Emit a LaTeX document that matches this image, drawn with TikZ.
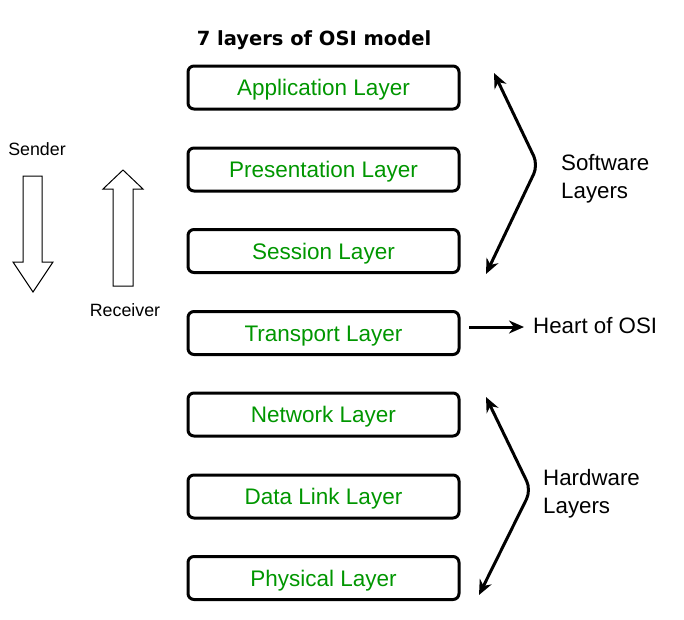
\documentclass[tikz,border=0pt]{standalone}
\usepackage{fontspec}
\setmainfont{Liberation Sans}
\newfontfamily\titlefont{DejaVu Sans}
\usetikzlibrary{arrows.meta}
\definecolor{layergreen}{RGB}{0,150,0}
\tikzset{
  layerbox/.style={draw=black, line width=3pt, rounded corners=6pt, minimum width=271pt, minimum height=43pt, inner sep=0pt, text height=16pt, text depth=0pt, text=layergreen, font=\fontsize{22.5}{24}\selectfont},
  sidelabel/.style={font=\fontsize{22.3}{28}\selectfont, align=left, anchor=west, inner sep=0pt},
  smalllabel/.style={font=\fontsize{17.8}{20}\selectfont, inner sep=0pt},
  bigarrow/.style={draw=black, line width=1pt, fill=white},
  bracearrow/.style={line width=3pt, rounded corners=10pt, {Stealth[length=15pt,width=13pt]}-{Stealth[length=15pt,width=13pt]}},
  heartarrow/.style={line width=3pt, -{Stealth[length=15pt,width=13pt]}}
}
\begin{document}
\begin{tikzpicture}[x=1pt,y=-1pt]
\useasboundingbox (0,0) rectangle (684,619);
\node[font=\titlefont\bfseries\fontsize{19.5}{22}\selectfont, inner sep=0pt] (title) at (314,40) {7 layers of OSI model};
\node[layerbox] (app) at (323.5,87.5) {Application Layer};
\node[layerbox] (pres) at (323.5,169.5) {Presentation Layer};
\node[layerbox] (sess) at (323.5,251) {Session Layer};
\node[layerbox] (trans) at (323.5,333) {Transport Layer};
\node[layerbox] (net) at (323.5,414.5) {Network Layer};
\node[layerbox] (dl) at (323.5,496.5) {Data Link Layer};
\node[layerbox] (phys) at (323.5,578) {Physical Layer};
% software
\coordinate (swtop) at (494,73);
\coordinate (swapex) at (538,165);
\coordinate (swbot) at (486,274);
\draw[bracearrow] (swtop) -- (swapex) -- (swbot);
\node[sidelabel] (sw) at (561,179) {Software\\Layers};
% hardware
\coordinate (hwtop) at (486,397);
\coordinate (hwapex) at (531,490);
\coordinate (hwbot) at (479,595);
\draw[bracearrow] (hwtop) -- (hwapex) -- (hwbot);
\node[sidelabel] (hw) at (543,494) {Hardware\\Layers};
% heart
\node[sidelabel] (heart) at (533,326) {Heart of OSI};
\coordinate (heartstart) at (469,327);
\coordinate (heartend) at (524,327);
\draw[heartarrow] (heartstart) -- (heartend);
% sender / receiver
\node[smalllabel] (sender) at (37,149) {Sender};
\node[smalllabel] (receiver) at (125,310) {Receiver};
\draw[bigarrow] (23,176) -- (42,176) -- (42,262) -- (53,262) -- (33,292) -- (13,262) -- (23,262) -- cycle;
\draw[bigarrow] (123,170) -- (143,189) -- (133,189) -- (133,286) -- (113,286) -- (113,189) -- (103,189) -- cycle;
\end{tikzpicture}
\end{document}
